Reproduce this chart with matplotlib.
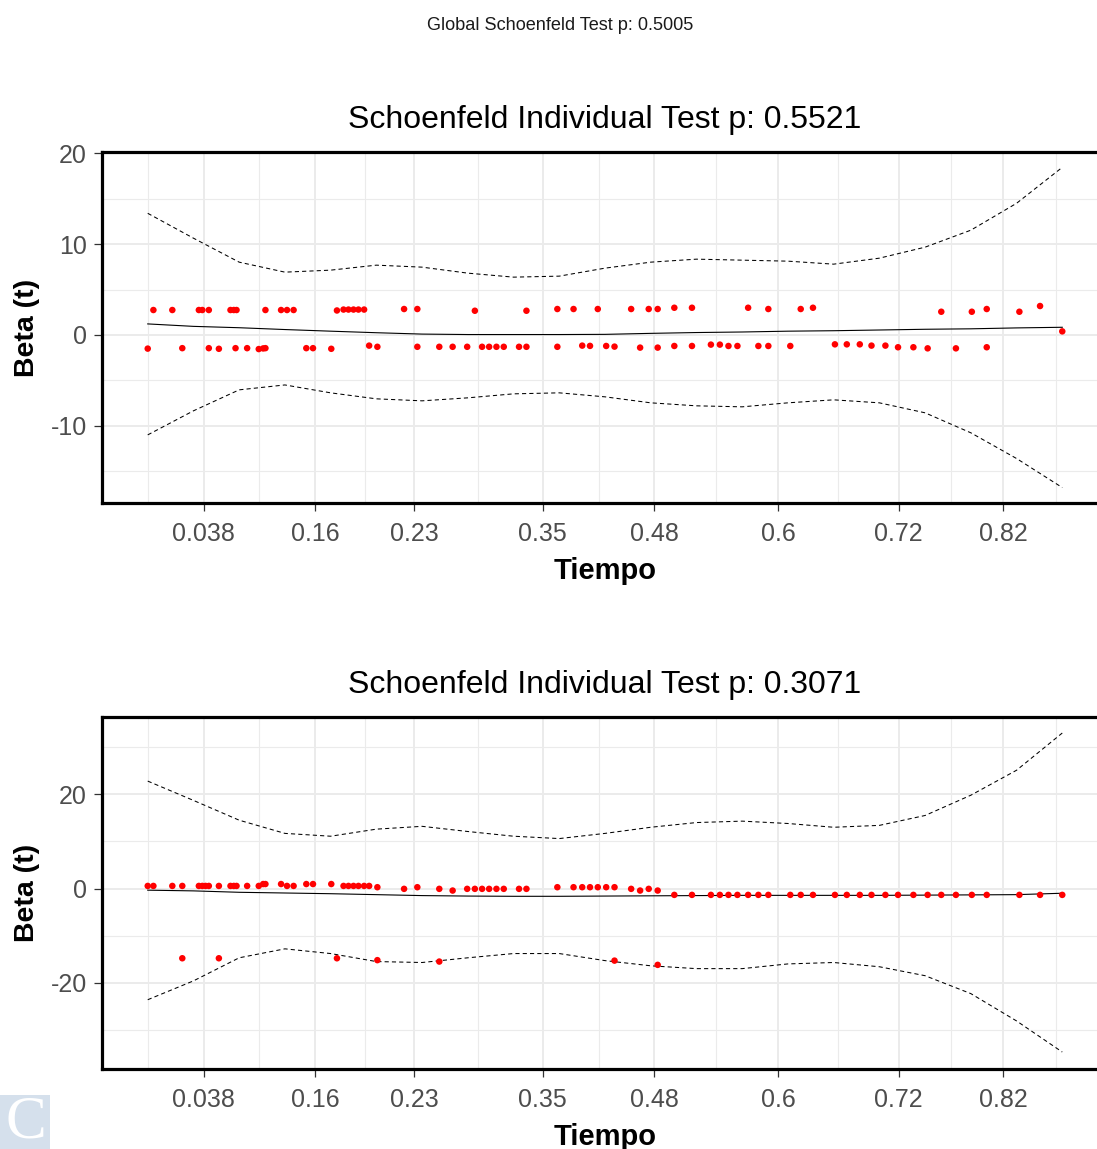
import numpy as np
import matplotlib
matplotlib.use("Agg")
import matplotlib.pyplot as plt
from matplotlib.patches import Rectangle

plt.rcParams['font.family'] = ['Liberation Sans', 'DejaVu Sans']
plt.rcParams['axes.unicode_minus'] = False

# ---------------- data ----------------
global_title = "Global Schoenfeld Test p: 0.5005"
panel_titles = ["Schoenfeld Individual Test p: 0.5521",
                "Schoenfeld Individual Test p: 0.3071"]
x_label = "Tiempo"
y_label = "Beta (t)"

# transformed time positions of the x breaks and their labels
tick_pos = [0.0611, 0.1832, 0.2912, 0.4318, 0.5540, 0.6892, 0.8212, 0.9357]
tick_labels = ["0.038", "0.16", "0.23", "0.35", "0.48", "0.6", "0.72", "0.82"]

# panel 1 residuals
tiempo_1 = [0.0000, 0.0062, 0.0269, 0.0378, 0.0559, 0.0597, 0.0668, 0.0668,
            0.0778, 0.0905, 0.0941, 0.0971, 0.0960, 0.1087, 0.1214, 0.1262,
            0.1287, 0.1287, 0.1458, 0.1523, 0.1595, 0.1734, 0.1807, 0.2007,
            0.2069, 0.2141, 0.2195, 0.2250, 0.2304, 0.2366, 0.2421, 0.2511,
            0.2803, 0.2948, 0.2948, 0.3188, 0.3334, 0.3493, 0.3577, 0.3656,
            0.3733, 0.3813, 0.3893, 0.4060, 0.4141, 0.4141, 0.4479, 0.4479,
            0.4656, 0.4751, 0.4836, 0.4921, 0.5013, 0.5104, 0.5286, 0.5384,
            0.5478, 0.5576, 0.5576, 0.5758, 0.5758, 0.5951, 0.5951, 0.6158,
            0.6256, 0.6350, 0.6448, 0.6565, 0.6677, 0.6786, 0.6786, 0.7026,
            0.7140, 0.7274, 0.7514, 0.7644, 0.7786, 0.7914, 0.8066, 0.8204,
            0.8372, 0.8528, 0.8677, 0.8837, 0.9011, 0.9174, 0.9174, 0.9531,
            0.9757, 1.0000]
beta_1 = [-1.50, 2.75, 2.75, -1.45, 2.75, 2.75, 2.75, -1.45,
          -1.52, 2.75, 2.75, 2.75, -1.45, -1.45, -1.55, -1.48,
          2.75, -1.45, 2.75, 2.75, 2.75, -1.45, -1.45, -1.52,
          2.70, 2.80, 2.80, 2.80, 2.80, 2.80, -1.17, -1.30,
          2.86, 2.86, -1.30, -1.30, -1.30, -1.30, 2.67, -1.30,
          -1.30, -1.30, -1.30, -1.30, 2.67, -1.30, 2.86, -1.30,
          2.86, -1.17, -1.20, 2.86, -1.21, -1.28, 2.86, -1.39,
          2.86, 2.86, -1.39, 3.00, -1.21, 3.00, -1.21, -1.06,
          -1.06, -1.21, -1.21, 3.00, -1.21, 2.86, -1.21, -1.21,
          2.86, 3.00, -1.03, -1.03, -1.03, -1.17, -1.17, -1.35,
          -1.35, -1.47, 2.56, -1.47, 2.56, 2.86, -1.35, 2.56,
          3.19, 0.40]

# panel 2 residuals
tiempo_2 = [0.0000, 0.0062, 0.0269, 0.0378, 0.0559, 0.0597, 0.0632, 0.0668,
            0.0778, 0.0905, 0.0941, 0.0971, 0.1087, 0.1214, 0.1262, 0.1287,
            0.1458, 0.1523, 0.1595, 0.1734, 0.1807, 0.2007, 0.2141, 0.2195,
            0.2250, 0.2304, 0.2366, 0.2421, 0.2511, 0.2803, 0.2948, 0.3188,
            0.3334, 0.3493, 0.3577, 0.3656, 0.3733, 0.3813, 0.3893, 0.4060,
            0.4141, 0.4479, 0.4656, 0.4751, 0.4836, 0.4921, 0.5013, 0.5104,
            0.5286, 0.5384, 0.5478, 0.5576, 0.5758, 0.5951, 0.6158, 0.6256,
            0.6350, 0.6448, 0.6565, 0.6677, 0.6786, 0.7026, 0.7140, 0.7274,
            0.7514, 0.7644, 0.7786, 0.7914, 0.8066, 0.8204, 0.8372, 0.8528,
            0.8677, 0.8837, 0.9011, 0.9174, 0.9531, 0.9757, 1.0000,
            0.0378, 0.0778, 0.2069, 0.2511, 0.3188, 0.5104, 0.5576]
beta_2 = [0.55, 0.55, 0.55, 0.55, 0.55, 0.55, 0.55, 0.55,
          0.55, 0.55, 0.55, 0.55, 0.55, 0.55, 0.95, 0.95,
          0.95, 0.55, 0.55, 0.95, 0.95, 0.95, 0.55, 0.55,
          0.55, 0.55, 0.55, 0.55, 0.28, -0.07, 0.28, -0.07,
          -0.43, -0.07, -0.07, -0.07, -0.07, -0.07, -0.07, -0.07,
          -0.07, 0.28, 0.28, 0.28, 0.28, 0.28, 0.28, 0.28,
          -0.07, -0.43, -0.07, -0.43, -1.35, -1.35, -1.35, -1.35,
          -1.35, -1.35, -1.35, -1.35, -1.35, -1.35, -1.35, -1.35,
          -1.35, -1.35, -1.35, -1.35, -1.35, -1.35, -1.35, -1.35,
          -1.35, -1.35, -1.35, -1.35, -1.35, -1.35, -1.35,
          -14.8, -14.8, -14.8, -15.2, -15.5, -15.3, -16.2]

# smoothed beta(t) and its confidence band
curve_t = [0.00, 0.05, 0.10, 0.15, 0.20, 0.25, 0.30, 0.35, 0.40, 0.45, 0.50,
           0.55, 0.60, 0.65, 0.70, 0.75, 0.80, 0.85, 0.90, 0.95, 1.00]
fit_1 = [1.22, 0.95, 0.80, 0.60, 0.42, 0.25, 0.10, 0.05, 0.05, 0.05, 0.07,
         0.18, 0.27, 0.33, 0.42, 0.47, 0.55, 0.63, 0.68, 0.78, 0.85]
upper_1 = [13.4, 10.66, 8.02, 6.92, 7.14, 7.69, 7.47, 6.81, 6.37, 6.48, 7.36,
           8.02, 8.35, 8.24, 8.13, 7.80, 8.46, 9.67, 11.54, 14.5, 18.46]
lower_1 = [-11.0, -8.35, -6.04, -5.50, -6.37, -7.03, -7.25, -6.92, -6.48, -6.37, -6.81,
           -7.47, -7.80, -7.91, -7.47, -7.14, -7.47, -8.57, -10.77, -13.6, -16.8]
fit_2 = [-0.35, -0.50, -0.80, -0.95, -1.10, -1.30, -1.50, -1.60, -1.65, -1.65, -1.60,
         -1.55, -1.50, -1.45, -1.45, -1.45, -1.45, -1.40, -1.35, -1.30, -1.00]
upper_2 = [22.8, 18.7, 14.5, 11.7, 11.1, 12.6, 13.2, 12.1, 11.1, 10.6, 11.7,
           13.0, 14.0, 14.3, 13.8, 13.0, 13.4, 15.5, 19.8, 25.1, 33.0]
lower_2 = [-23.6, -19.6, -14.7, -12.8, -13.8, -15.5, -15.7, -14.7, -13.8, -13.8, -15.3,
           -16.4, -17.0, -17.0, -16.0, -15.7, -16.6, -18.5, -22.3, -28.1, -34.7]

y_major = [[-10, 0, 10, 20], [-20, 0, 20]]
y_limits = [(-18.5, 20.15), (-38.3, 36.4)]

# ---------------- figure ----------------
W, H = 1097, 1149
fig = plt.figure(figsize=(W / 100, H / 100), dpi=100)

fig.text(560 / W, 1 - 25 / H, global_title, ha='center', va='center',
         fontsize=13.1, color='#1a1a1a')

ax_left = 102 / W
ax_width = (1108 - 102) / W
panels = [(1 - 503 / H, (503 - 152) / H), (1 - 1069 / H, (1069 - 717) / H)]

series = [(tiempo_1, beta_1, fit_1, upper_1, lower_1),
          (tiempo_2, beta_2, fit_2, upper_2, lower_2)]

grid_col = '#EBEBEB'
x_minor = [tick_pos[0] - (tick_pos[1] - tick_pos[0]) / 2] + \
          [(a + b) / 2 for a, b in zip(tick_pos[:-1], tick_pos[1:])] + \
          [tick_pos[-1] + (tick_pos[-1] - tick_pos[-2]) / 2]

for i, (bottom, height) in enumerate(panels):
    ax = fig.add_axes([ax_left, bottom, ax_width, height])
    t, b, fit, up, lo = series[i]
    ym = y_major[i]
    step = ym[1] - ym[0]
    y_minor = [v - step / 2 for v in ym] + [ym[-1] + step / 2]

    ax.set_xticks(tick_pos)
    ax.set_xticklabels(tick_labels)
    ax.set_xticks(x_minor, minor=True)
    ax.set_yticks(ym)
    ax.set_yticks(y_minor, minor=True)
    ax.grid(True, which='major', color=grid_col, lw=1.4, zorder=0)
    ax.grid(True, which='minor', color=grid_col, lw=0.8, zorder=0)
    ax.set_axisbelow(True)

    ax.plot(curve_t, up, ls=(0, (4, 3)), color='black', lw=0.75, zorder=2)
    ax.plot(curve_t, lo, ls=(0, (4, 3)), color='black', lw=0.75, zorder=2)
    ax.plot(curve_t, fit, ls='-', color='black', lw=0.8, zorder=2)
    ax.scatter(t, b, s=22, color='#FF0000', edgecolors='none', zorder=3)

    ax.set_xlim(-0.05, 1.05)
    ax.set_ylim(*y_limits[i])

    for side in ['left', 'bottom', 'top']:
        ax.spines[side].set_linewidth(2.3)
        ax.spines[side].set_color('black')
    ax.spines['right'].set_visible(False)

    ax.tick_params(which='minor', length=0)
    ax.tick_params(which='major', direction='out', length=5.5, width=0.9,
                   color='#333333', labelsize=18, labelcolor='#4D4D4D')
    ax.tick_params(axis='x', pad=8)
    ax.tick_params(axis='y', pad=5.5)

    ax.set_title(panel_titles[i], fontsize=23, pad=17, color='black')
    ax.set_xlabel(x_label, fontsize=21, fontweight='bold', color='black', labelpad=8)
    ax.set_ylabel(y_label, fontsize=20.5, fontweight='bold', color='black')
    ax.yaxis.set_label_coords(-0.0616, 0.5)

# corner watermark
fig.patches.append(Rectangle((0, 0), 50 / W, 54 / H, transform=fig.transFigure,
                             facecolor='#D5E0EC', edgecolor='none', zorder=5))
fig.text(26 / W, 26 / H, "C", ha='center', va='center', fontsize=44,
         color='white', family=['Liberation Serif', 'DejaVu Serif'], zorder=6)

fig.savefig("out.png", dpi=100)
